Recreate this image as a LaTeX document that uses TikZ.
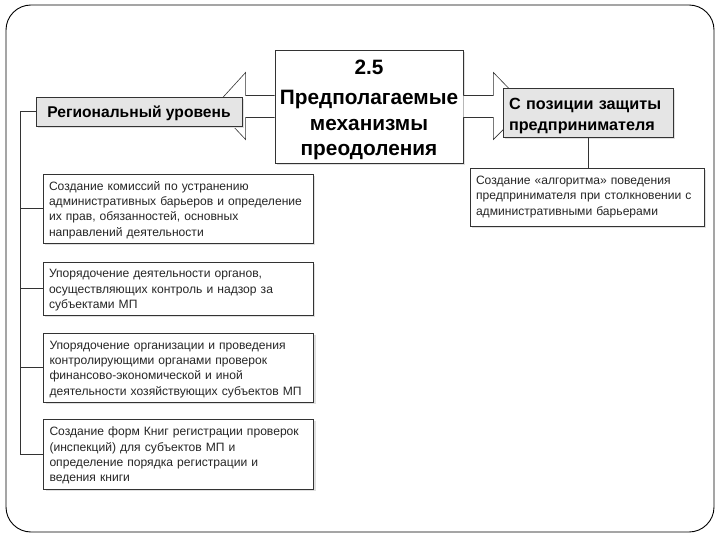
\documentclass[tikz,border=0pt]{standalone}
\usepackage{fontspec}
\setmainfont{Liberation Sans}
\usetikzlibrary{calc,shadows}
\begin{document}
\begin{tikzpicture}[x=1pt,y=-1pt,
  boxline/.style={draw=black!80,line width=0.8pt},
  shd/.style={drop shadow={shadow xshift=2pt,shadow yshift=-2pt,fill=black!12,opacity=1}},
  leftbox/.style={boxline,shd,fill=white,minimum width=270pt,text width=258pt,align=left,inner sep=0pt,
     font=\fontsize{12.1}{15.3}\selectfont,text=black!85},
  headbox/.style={boxline,shd,fill=black!10,inner sep=0pt,align=left,font=\bfseries},
  arrowshape/.style={draw=black!80,line width=0.6pt,fill=white},
  link/.style={draw=black!80,line width=0.7pt}]
\useasboundingbox (0,0) rectangle (720,540);
\draw[line width=0.9pt,rounded corners=25pt] (6,5) rectangle (714,532);

% central box
\node[boxline,shd,fill=white,minimum width=188pt,minimum height=113pt,inner sep=0pt,align=center,
  font=\bfseries\fontsize{20.8}{25.5}\selectfont] (c) at (369,106.5)
  {\rule{0pt}{21pt}2.5\\[5pt]Предполагаемые\\механизмы\\преодоления};

% block arrows
\draw[arrowshape] ($(c.west)+(0,-11)$) -- ++(-29,0) -- ++(0,-23) -- ++(-31,34) -- ++(31,33) -- ++(0,-22) -- ($(c.west)+(0,11)$);
\draw[arrowshape] ($(c.east)+(0,-11)$) -- ++(30,0) -- ++(0,-23) -- ++(33,34) -- ++(-33,33) -- ++(0,-22) -- ($(c.east)+(0,11)$);

% heads
\node[headbox,minimum width=206pt,minimum height=29pt,align=center,font=\bfseries\fontsize{15.6}{18}\selectfont] (reg) at (139,111.5)
  {\rule{0pt}{15pt}Региональный уровень};
\node[headbox,minimum width=170pt,minimum height=49pt,text width=158pt,font=\bfseries\fontsize{16.2}{21}\selectfont] (rt) at (588,112.5)
  {\rule{0pt}{18pt}С позиции защиты\\предпринимателя};

% right lower box
\node[leftbox,minimum width=234pt,text width=222pt,minimum height=58pt] (rb) at (587,197)
  {Создание «алгоритма» поведения\\предпринимателя при столкновении с\\административными барьерами};

% left boxes
\node[leftbox,minimum height=69pt] (b1) at (178,208.5)
  {\rule{0pt}{12pt}Создание комиссий по устранению\\административных барьеров и определение\\их прав, обязанностей, основных\\направлений деятельности};
\node[leftbox,minimum height=53pt] (b2) at (178,288.5)
  {\rule{0pt}{12pt}Упорядочение деятельности органов,\\осуществляющих контроль и надзор за\\субъектами МП};
\node[leftbox,minimum height=69pt] (b3) at (178.5,367.5)
  {\rule{0pt}{12pt}Упорядочение организации и проведения\\контролирующими органами проверок\\финансово-экономической и иной\\деятельности хозяйствующих субъектов МП};
\node[leftbox,minimum height=70pt] (b4) at (178.5,454)
  {\rule{0pt}{12pt}Создание форм Книг регистрации проверок\\(инспекций) для субъектов МП и\\определение порядка регистрации и\\ведения книги};

% connectors
\coordinate (sp) at (20,111.5);
\draw[link] (reg.west) -- (sp) |- (b4.west);
\draw[link] (sp |- b1.west) -- (b1.west);
\draw[link] (sp |- b2.west) -- (b2.west);
\draw[link] (sp |- b3.west) -- (b3.west);
\draw[link] (rt.south) -- (rt.south |- rb.north);
\end{tikzpicture}
\end{document}
